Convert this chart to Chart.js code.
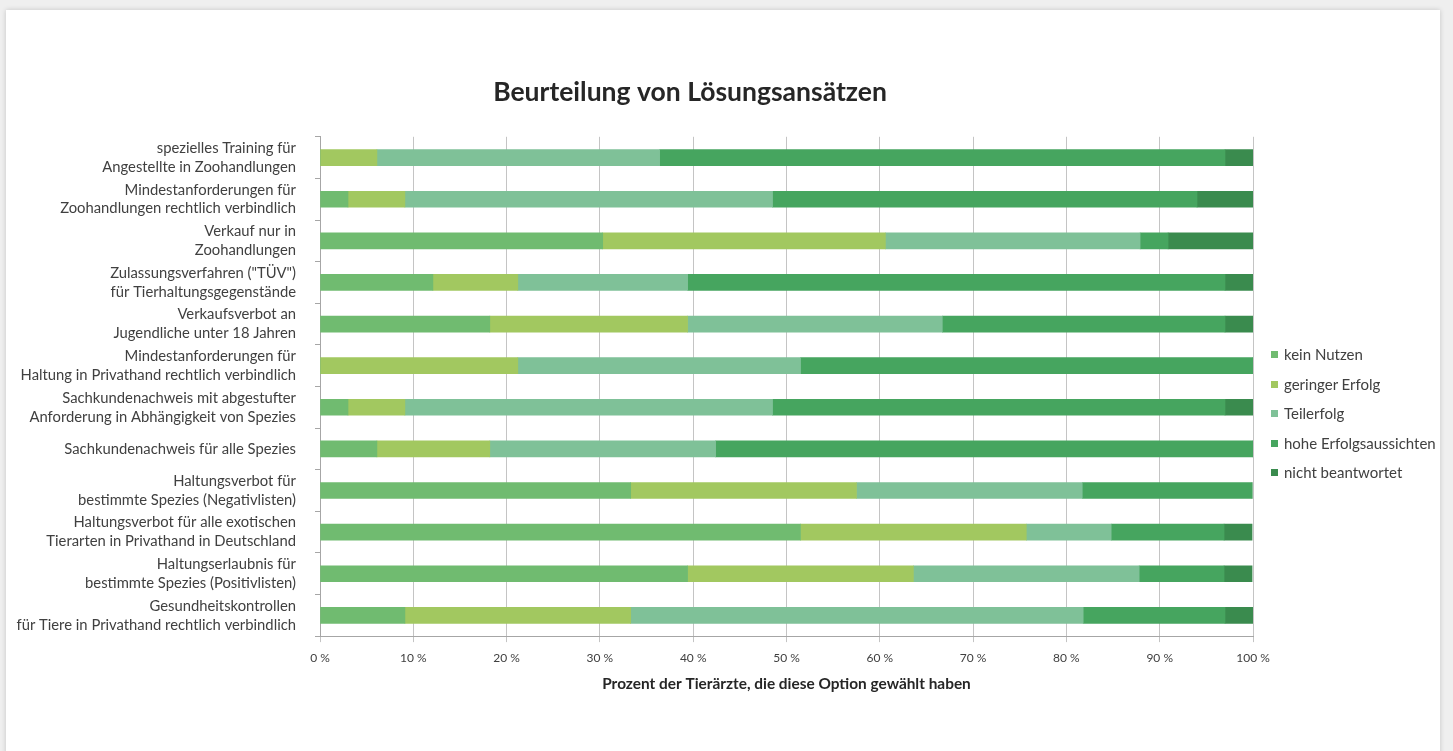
<!DOCTYPE html>
<html>
<head>
<meta charset="utf-8">
<title>Beurteilung von Lösungsansätzen</title>
<script src="https://cdn.jsdelivr.net/npm/chart.js@4.4.1/dist/chart.umd.min.js"></script>
<style>
    html, body { margin: 0; padding: 0; }
    body { background: #efefef; width: 1453px; height: 751px; overflow: hidden; position: relative; font-family: Lato, "Open Sans", sans-serif; }
    #card { position: absolute; left: 6px; top: 10px; width: 1434px; height: 780px; background: #fff; box-shadow: 0 0 5px rgba(0,0,0,0.18); }
    #wrap { position: absolute; left: 0; top: 0; width: 1380px; height: 751px; }
    #legend { position: absolute; left: 1271px; top: 345px; margin: 0; padding: 0; list-style: none; }
    #legend li { height: 29.5px; font-size: 15px; color: #404040; display: flex; align-items: flex-start; line-height: 19px; white-space: nowrap; }
    #legend span { display: inline-block; width: 7px; height: 7px; margin: 6px 6px 0 0; }
</style>
</head>
<body>
<div id="card"></div>
<div id="wrap"><canvas id="myChart" width="1380" height="751"></canvas></div>
<ul id="legend"></ul>
<script>
// categories (top to bottom)
var categories = [
    ["spezielles Training für", "Angestellte in Zoohandlungen"],
    ["Mindestanforderungen für", "Zoohandlungen rechtlich verbindlich"],
    ["Verkauf nur in", "Zoohandlungen"],
    ["Zulassungsverfahren (\"TÜV\")", "für Tierhaltungsgegenstände"],
    ["Verkaufsverbot an", "Jugendliche unter 18 Jahren"],
    ["Mindestanforderungen für", "Haltung in Privathand rechtlich verbindlich"],
    ["Sachkundenachweis mit abgestufter", "Anforderung in Abhängigkeit von Spezies"],
    "Sachkundenachweis für alle Spezies",
    ["Haltungsverbot für", "bestimmte Spezies (Negativlisten)"],
    ["Haltungsverbot für alle exotischen", "Tierarten in Privathand in Deutschland"],
    ["Haltungserlaubnis für", "bestimmte Spezies (Positivlisten)"],
    ["Gesundheitskontrollen", "für Tiere in Privathand rechtlich verbindlich"]
];

// percent of vets per answer, same order as categories
var keinNutzen     = [0, 3.0, 30.3, 12.1, 18.2, 0, 3.0, 6.1, 33.3, 51.5, 39.4, 9.1];
var geringerErfolg = [6.1, 6.1, 30.3, 9.1, 21.2, 21.2, 6.1, 12.1, 24.2, 24.2, 24.2, 24.2];
var teilerfolg     = [30.3, 39.4, 27.3, 18.2, 27.3, 30.3, 39.4, 24.2, 24.2, 9.1, 24.2, 48.5];
var hoheAussichten = [60.6, 45.5, 3.0, 57.6, 30.3, 48.5, 48.5, 57.6, 18.2, 12.1, 9.1, 15.2];
var nichtBeantw    = [3.0, 6.1, 9.1, 3.0, 3.0, 0, 3.0, 0, 0, 3.0, 3.0, 3.0];

var xTicks = [0, 10, 20, 30, 40, 50, 60, 70, 80, 90, 100];

var seriesNames = ["kein Nutzen", "geringer Erfolg", "Teilerfolg", "hohe Erfolgsaussichten", "nicht beantwortet"];
var seriesData = [keinNutzen, geringerErfolg, teilerfolg, hoheAussichten, nichtBeantw];
var seriesColors = ["#70bb70", "#a2c860", "#7fc198", "#46a55f", "#3a8b4e"];

var datasets = seriesNames.map(function (name, i) {
    return {
        label: name,
        data: seriesData[i],
        backgroundColor: seriesColors[i],
        borderWidth: 0,
        barThickness: 16
    };
});

var fontFam = "Lato, 'Open Sans', sans-serif";

// the original title is centred on the whole picture, not on the plot
var titleCentre = {
    id: "titleCentre",
    afterLayout: function (chart) {
        chart.titleBlock.left = 0;
        chart.titleBlock.right = chart.width;
    }
};

new Chart(document.getElementById("myChart").getContext("2d"), {
    type: "bar",
    data: {
        labels: categories,
        datasets: datasets
    },
    plugins: [titleCentre],
    options: {
        indexAxis: "y",
        responsive: false,
        animation: false,
        layout: { padding: { left: 0, right: 127, top: 0, bottom: 58 } },
        plugins: {
            legend: { display: false },
            tooltip: { enabled: false },
            title: {
                display: true,
                text: "Beurteilung von Lösungsansätzen",
                color: "#262626",
                font: { family: fontFam, size: 26.5, weight: "bold" },
                padding: { top: 77, bottom: 28 }
            }
        },
        scales: {
            x: {
                stacked: true,
                min: 0,
                max: 100,
                afterBuildTicks: function (scale) {
                    scale.ticks = xTicks.map(function (v) { return { value: v }; });
                },
                ticks: {
                    color: "#404040",
                    font: { family: fontFam, size: 12 },
                    padding: 9,
                    callback: function (v) { return v + " %"; }
                },
                grid: { color: "#c4c4c4", tickLength: 6 },
                border: { color: "#a6a6a6" },
                title: {
                    display: true,
                    text: "Prozent der Tierärzte, die diese Option gewählt haben",
                    color: "#262626",
                    font: { family: fontFam, size: 15.4, weight: "bold" },
                    padding: { top: 0, bottom: 0 }
                }
            },
            y: {
                stacked: true,
                afterFit: function (scale) { scale.width = 320; },
                ticks: {
                    autoSkip: false,
                    color: "#404040",
                    font: { family: fontFam, size: 14.8, lineHeight: 1.28 },
                    padding: 19
                },
                grid: { drawOnChartArea: false, color: "#a6a6a6", tickLength: 5 },
                border: { color: "#a6a6a6" }
            }
        }
    }
});

// legend as html, built from the same series arrays
var legendEl = document.getElementById("legend");
seriesNames.forEach(function (name, i) {
    var li = document.createElement("li");
    var box = document.createElement("span");
    box.style.background = seriesColors[i];
    li.appendChild(box);
    li.appendChild(document.createTextNode(name));
    legendEl.appendChild(li);
});
</script>
</body>
</html>
